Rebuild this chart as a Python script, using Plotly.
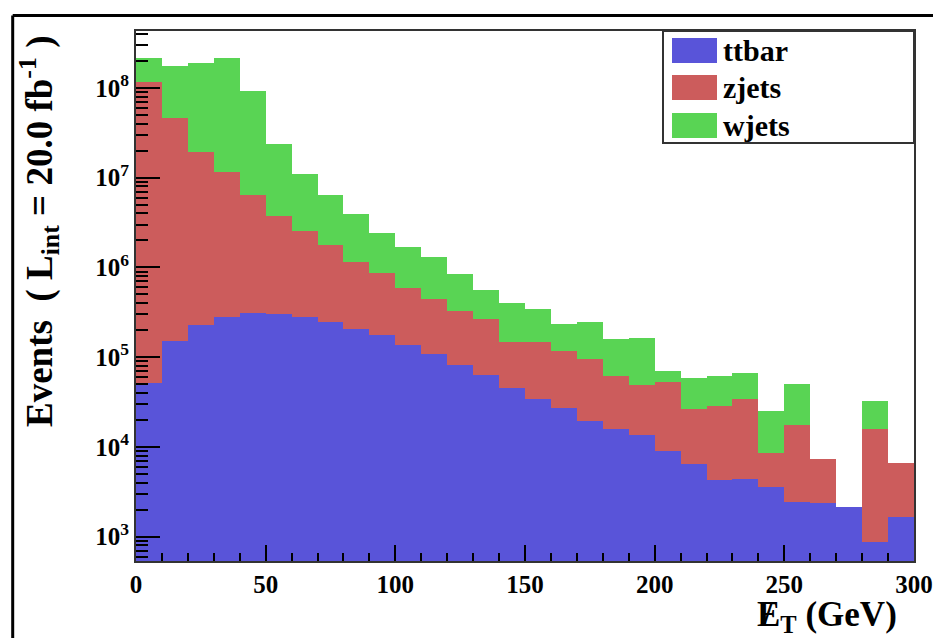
import plotly.graph_objects as go

# Missing transverse energy binning (GeV), 10 GeV bins
bin_edges = list(range(0, 310, 10))

# Expected event yields per bin for L_int = 20 fb^-1
ttbar = [51300, 153000, 229000, 279000, 309000, 304000, 281000, 249000, 208000, 177000,
         137000, 109000, 82700, 63500, 45800, 34600, 27200, 19600, 15700, 13700,
         9100, 6500, 4290, 4360, 3560, 2450, 2360, 2140, 880, 1670]
zjets = [117950000, 46550000, 19270000, 11220000, 6151000, 3396000, 2279000, 1541000, 952000, 688000,
         460000, 334000, 243300, 201500, 102200, 113400, 90800, 75400, 46300, 35100,
         44400, 19800, 24510, 29940, 5010, 15050, 5050, 0, 14820, 5010]
wjets = [98000000, 129300000, 168500000, 204500000, 86540000, 20200000, 8440000, 4670000, 2740000, 1545000,
         1113000, 877000, 514000, 293000, 258000, 197000, 119000, 150000, 99000, 115200,
         16800, 33000, 33200, 32600, 16630, 32900, 0, 0, 16600, 0]

samples = ["ttbar", "zjets", "wjets"]
sample_values = {"ttbar": ttbar, "zjets": zjets, "wjets": wjets}
sample_colors = {"ttbar": "#5954D9", "zjets": "#CC5C5C", "wjets": "#59D454"}

y_major = [1e3, 1e4, 1e5, 1e6, 1e7, 1e8]
y_major_text = ["10<sup>%d</sup>" % e for e in range(3, 9)]
y_minor = [k * 10 ** e for e in range(2, 9) for k in range(2, 10)]
x_major = list(range(0, 301, 50))
x_minor = list(range(0, 301, 10))

centers = [(a + b) / 2 for a, b in zip(bin_edges[:-1], bin_edges[1:])]
widths = [b - a for a, b in zip(bin_edges[:-1], bin_edges[1:])]

SERIF = "Liberation Serif, Times New Roman, Times, serif"

fig = go.Figure()
for name in samples:
    fig.add_bar(
        x=centers, y=sample_values[name], width=widths, name=name,
        marker=dict(color=sample_colors[name], line=dict(width=0)),
        showlegend=False,
    )

# pixel geometry of the frame (plot area spans 136..914 x 31..561)
L, R, T, B = 136, 914, 31, 561
W, H = 933, 638


def px(x):
    return (x - L) / (R - L)


def py(y):
    return (B - y) / (B - T)


fig.update_layout(
    width=W, height=H,
    margin=dict(l=L, r=W - R, t=T, b=H - B, autoexpand=False),
    paper_bgcolor="white", plot_bgcolor="white",
    barmode="stack", bargap=0, showlegend=False,
)

fig.update_xaxes(
    automargin=False,
    range=[bin_edges[0], bin_edges[-1]],
    tickmode="array", tickvals=x_major,
    ticks="inside", ticklen=16, tickwidth=2, tickcolor="black",
    minor=dict(tickmode="array", tickvals=x_minor, ticks="inside", ticklen=8,
               tickwidth=2, tickcolor="black"),
    showline=True, mirror=True, linecolor="#333333", linewidth=2,
    showgrid=False, zeroline=False,
    tickfont=dict(family=SERIF, size=25, color="black", weight="bold"),
)
fig.update_yaxes(
    automargin=False,
    type="log", range=[2.729, 8.635],
    tickmode="array", tickvals=y_major, ticktext=y_major_text,
    ticks="inside", ticklen=24, tickwidth=2, tickcolor="black",
    minor=dict(tickmode="array", tickvals=y_minor, ticks="inside", ticklen=12,
               tickwidth=2, tickcolor="black"),
    showline=True, mirror=True, linecolor="#333333", linewidth=2,
    showgrid=False, zeroline=False,
    tickfont=dict(family=SERIF, size=25, color="black", weight="bold"),
)

shapes = []
annotations = []

# outer canvas frame (top and left edges)
shapes.append(dict(type="line", xref="paper", yref="paper",
                   x0=px(12.7), x1=px(W), y0=py(15.5), y1=py(15.5),
                   line=dict(color="black", width=3)))
shapes.append(dict(type="line", xref="paper", yref="paper",
                   x0=px(12.7), x1=px(12.7), y0=py(15.5), y1=py(H),
                   line=dict(color="black", width=3)))

# legend box with swatches
shapes.append(dict(type="rect", xref="paper", yref="paper",
                   x0=px(663), x1=px(914), y0=py(143), y1=py(31),
                   line=dict(color="#333333", width=2), fillcolor="white"))
swatch_rows = [(38, 63), (75, 100), (113, 138)]
for name, (y0, y1) in zip(samples, swatch_rows):
    shapes.append(dict(type="rect", xref="paper", yref="paper",
                       x0=px(672), x1=px(717), y0=py(y1), y1=py(y0),
                       line=dict(width=0), fillcolor=sample_colors[name]))
    annotations.append(dict(xref="paper", yref="paper", x=px(721), y=py((y0 + y1) / 2),
                            xanchor="left", yanchor="middle", showarrow=False,
                            text="<b>%s</b>" % name,
                            font=dict(family=SERIF, size=30, color="black")))

# y-axis title
annotations.append(dict(xref="paper", yref="paper", x=px(39), y=py(33),
                        xanchor="center", yanchor="top", textangle=-90, showarrow=False,
                        text="<b>Events  ( L<sub>int</sub> = 20.0 fb<sup>-1</sup> )</b>",
                        font=dict(family=SERIF, size=37, color="black")))

# x-axis title: E_T with a slash drawn across the E
XT_LEFT, XT_Y, XT_SIZE = 755, 616, 35
annotations.append(dict(xref="paper", yref="paper", x=px(XT_LEFT), y=py(XT_Y),
                        xanchor="left", yanchor="middle", showarrow=False,
                        text="<b>E<sub>T</sub> (GeV)</b>",
                        font=dict(family=SERIF, size=XT_SIZE, color="black")))
annotations.append(dict(xref="paper", yref="paper", x=px(XT_LEFT + 0.36 * XT_SIZE), y=py(XT_Y - 2),
                        xanchor="center", yanchor="middle", showarrow=False,
                        text="<b>/</b>",
                        font=dict(family=SERIF, size=XT_SIZE, color="black")))

fig.update_layout(shapes=shapes, annotations=annotations)

fig.write_html("out.html")
